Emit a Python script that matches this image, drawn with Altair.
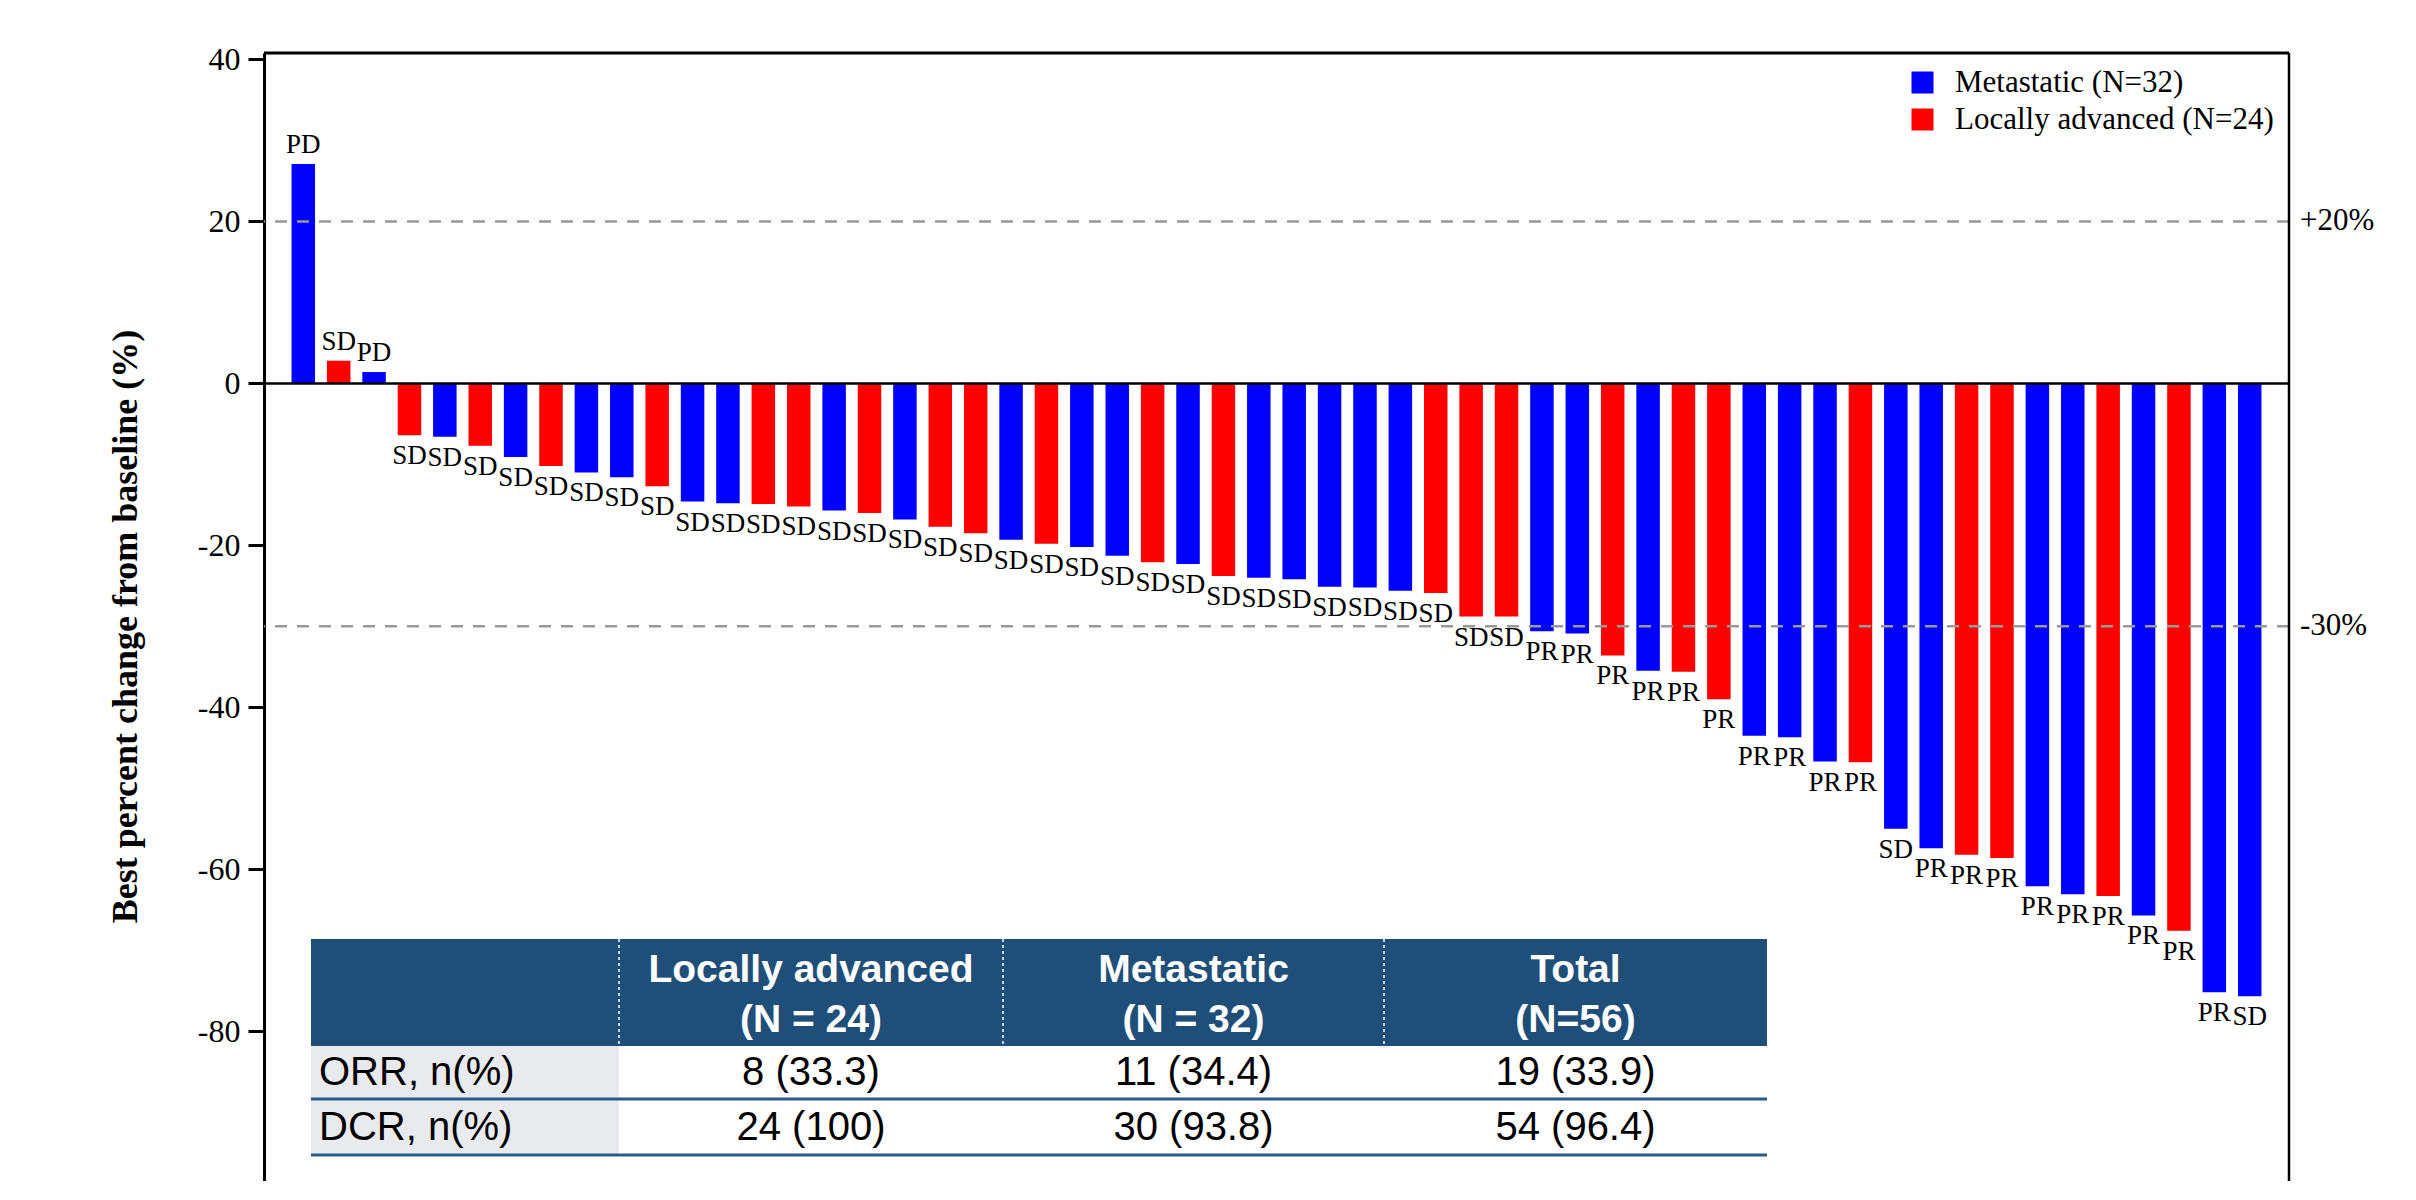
import altair as alt
import pandas as pd

# ---------------- data ----------------
change = [27.1, 2.8, 1.4, -6.4, -6.6, -7.7, -9.1, -10.2, -11.0, -11.6,
          -12.7, -14.6, -14.8, -14.9, -15.2, -15.7, -16.0, -16.8, -17.7, -18.5,
          -19.3, -19.8, -20.2, -21.3, -22.1, -22.3, -23.8, -24.0, -24.2, -25.1,
          -25.2, -25.6, -25.9, -28.8, -28.8, -30.6, -30.9, -33.6, -35.5, -35.6,
          -39.0, -43.5, -43.7, -46.7, -46.8, -55.0, -57.4, -58.2, -58.6, -62.1,
          -63.1, -63.3, -65.7, -67.6, -75.2, -75.7]
group_code = ["M", "L", "M", "L", "M", "L", "M", "L", "M", "M",
              "L", "M", "M", "L", "L", "M", "L", "M", "L", "L",
              "M", "L", "M", "M", "L", "M", "L", "M", "M", "M",
              "M", "M", "L", "L", "L", "M", "M", "L", "M", "L",
              "L", "M", "M", "M", "L", "M", "M", "L", "L", "M",
              "M", "L", "M", "L", "M", "M"]
response = ["PD", "SD", "PD", "SD", "SD", "SD", "SD", "SD", "SD", "SD",
            "SD", "SD", "SD", "SD", "SD", "SD", "SD", "SD", "SD", "SD",
            "SD", "SD", "SD", "SD", "SD", "SD", "SD", "SD", "SD", "SD",
            "SD", "SD", "SD", "SD", "SD", "PR", "PR", "PR", "PR", "PR",
            "PR", "PR", "PR", "PR", "PR", "SD", "PR", "PR", "PR", "PR",
            "PR", "PR", "PR", "PR", "PR", "SD"]
group_names = {"M": "Metastatic (N=32)", "L": "Locally advanced (N=24)"}
legend_order = ["Metastatic (N=32)", "Locally advanced (N=24)"]
group_colors = ["#0000FF", "#FF0000"]

thresholds = [20, -30]
threshold_labels = ["+20%", "-30%"]
y_ticks = [40, 20, 0, -20, -40, -60, -80]
y_title = "Best percent change from baseline (%)"

header_line1 = ["Locally advanced", "Metastatic", "Total"]
header_line2 = ["(N = 24)", "(N = 32)", "(N=56)"]
row_labels = ["ORR, n(%)", "DCR, n(%)"]
orr_cells = ["8 (33.3)", "11 (34.4)", "19 (33.9)"]
dcr_cells = ["24 (100)", "30 (93.8)", "54 (96.4)"]

# ---------------- layout ----------------
W, H = 2025, 1128
Y_DOMAIN = [-98.5, 40.8]
SERIF = "Liberation Serif"
SANS = "Liberation Sans"

COL_EDGES = [47, 355, 739, 1120, 1503]
HEAD_TOP, HEAD_BOT = 886, 993
ROW_BOTS = [1046, 1102]
HEAD_TEXT_Y = [917, 967]
ROW_TEXT_Y = [1020, 1075]
HEADER_FILL = "#1F4E79"
LABEL_FILL = "#E8EAEE"
LINE_FILL = "#2B5A8A"

# ---------------- main chart ----------------
df = pd.DataFrame({
    "idx": list(range(1, len(change) + 1)),
    "change": change,
    "grp": [group_names[g] for g in group_code],
    "resp": response,
})

x_enc = alt.X("idx:O", scale=alt.Scale(paddingInner=0.336, paddingOuter=0.778), axis=None)
y_scale = alt.Scale(domain=Y_DOMAIN, nice=False, zero=False)
y_axis = alt.Axis(
    values=y_ticks, labelExpr="datum.value + ''",
    labelFont=SERIF, labelFontSize=32, labelColor="black", labelPadding=8,
    tickSize=16, tickWidth=3, tickColor="black",
    domainColor="black", domainWidth=3, grid=False,
    title=y_title, titleFont=SERIF, titleFontSize=36, titleFontWeight="bold",
    titleColor="black", titleAngle=270, titleX=-139, titleY=573,
    titleAlign="center", titleBaseline="middle")


def y_enc(field):
    return alt.Y(field, scale=y_scale, axis=y_axis, title=y_title)


bars = alt.Chart(df).mark_bar().encode(
    x=x_enc,
    y=y_enc("change:Q"),
    y2=alt.datum(0),
    color=alt.Color("grp:N", scale=alt.Scale(domain=legend_order, range=group_colors),
                    legend=alt.Legend(orient="none", legendX=1643, legendY=14, title=None,
                                      symbolType="square", symbolSize=484, symbolStrokeWidth=0,
                                      labelFont=SERIF, labelFontSize=31, labelColor="black",
                                      labelOffset=17, rowPadding=5, padding=0, labelLimit=0)),
)

lab_neg = alt.Chart(df).transform_filter("datum.change < 0").mark_text(
    baseline="top", dy=8, font=SERIF, fontSize=27, color="black"
).encode(x=x_enc, y=y_enc("change:Q"), text="resp:N")

lab_pos = alt.Chart(df).transform_filter("datum.change >= 0").mark_text(
    baseline="alphabetic", dy=-11, font=SERIF, fontSize=27, color="black"
).encode(x=x_enc, y=y_enc("change:Q"), text="resp:N")

thr_df = pd.DataFrame({"change": thresholds, "label": threshold_labels})
dashed = alt.Chart(thr_df).mark_rule(color="#999999", strokeWidth=2.5, strokeDash=[12, 10]).encode(
    y=y_enc("change:Q"))
thr_text = alt.Chart(thr_df).mark_text(align="left", baseline="middle", font=SERIF,
                                       fontSize=31, color="black").encode(
    x=alt.value(W + 11), y=y_enc("change:Q"), text="label:N")

zero_df = pd.DataFrame({"change": [0]})
zero_rule = alt.Chart(zero_df).mark_rule(color="black", strokeWidth=2.5).encode(
    y=y_enc("change:Q"))

frame_df = pd.DataFrame({"k": [1]})
top_rule = alt.Chart(frame_df).mark_rule(color="black", strokeWidth=3).encode(y=alt.value(0))
right_rule = alt.Chart(frame_df).mark_rule(color="black", strokeWidth=2.5).encode(x=alt.value(W))

main = alt.layer(bars, dashed, zero_rule, lab_neg, lab_pos, thr_text, top_rule, right_rule)

# ---------------- table ----------------
rects = pd.DataFrame([
    {"x0": COL_EDGES[0], "x1": COL_EDGES[-1], "y0": HEAD_TOP, "y1": HEAD_BOT, "fill": HEADER_FILL},
    {"x0": COL_EDGES[0], "x1": COL_EDGES[1], "y0": HEAD_BOT, "y1": ROW_BOTS[1], "fill": LABEL_FILL},
    {"x0": COL_EDGES[0], "x1": COL_EDGES[-1], "y0": ROW_BOTS[0] - 1.5, "y1": ROW_BOTS[0] + 1.5, "fill": LINE_FILL},
    {"x0": COL_EDGES[0], "x1": COL_EDGES[-1], "y0": ROW_BOTS[1] - 1.5, "y1": ROW_BOTS[1] + 1.5, "fill": LINE_FILL},
])
t_rects = alt.Chart(rects).mark_rect().encode(
    x=alt.X("x0:Q", scale=None), x2="x1:Q",
    y=alt.Y("y0:Q", scale=None), y2="y1:Q",
    color=alt.Color("fill:N", scale=None),
)

sep = pd.DataFrame({"x": COL_EDGES[1:4], "y0": [HEAD_TOP] * 3, "y1": [HEAD_BOT] * 3})
t_sep = alt.Chart(sep).mark_rule(color="white", strokeWidth=1.5, strokeDash=[3, 3]).encode(
    x=alt.X("x:Q", scale=None), y=alt.Y("y0:Q", scale=None), y2="y1:Q")

centers = [(COL_EDGES[i] + COL_EDGES[i + 1]) / 2 for i in range(1, 4)]
head_rows = []
for i, c in enumerate(centers):
    head_rows.append({"tx": c, "ty": HEAD_TEXT_Y[0], "t": header_line1[i]})
    head_rows.append({"tx": c, "ty": HEAD_TEXT_Y[1], "t": header_line2[i]})
t_head = alt.Chart(pd.DataFrame(head_rows)).mark_text(
    align="center", baseline="middle", font=SANS, fontSize=39, fontWeight="bold", color="white"
).encode(x=alt.X("tx:Q", scale=None), y=alt.Y("ty:Q", scale=None), text="t:N")

body_rows = []
for r, cells in enumerate([orr_cells, dcr_cells]):
    for i, c in enumerate(centers):
        body_rows.append({"tx": c, "ty": ROW_TEXT_Y[r], "t": cells[i]})
t_body = alt.Chart(pd.DataFrame(body_rows)).mark_text(
    align="center", baseline="middle", font=SANS, fontSize=40, color="black"
).encode(x=alt.X("tx:Q", scale=None), y=alt.Y("ty:Q", scale=None), text="t:N")

lab_rows = pd.DataFrame({"tx": [COL_EDGES[0] + 8] * 2, "ty": ROW_TEXT_Y, "t": row_labels})
t_lab = alt.Chart(lab_rows).mark_text(
    align="left", baseline="middle", font=SANS, fontSize=40, color="black"
).encode(x=alt.X("tx:Q", scale=None), y=alt.Y("ty:Q", scale=None), text="t:N")

table = alt.layer(t_rects, t_sep, t_head, t_body, t_lab)

chart = alt.layer(main, table).resolve_scale(
    x="independent", y="independent", color="independent"
).properties(
    width=W, height=H,
    padding={"left": 256, "top": 45, "right": 110, "bottom": 0},
    autosize=alt.AutoSizeParams(type="none"),
).configure_view(strokeWidth=0)

chart.save("out.html", embed_options={"renderer": "svg", "actions": False})
